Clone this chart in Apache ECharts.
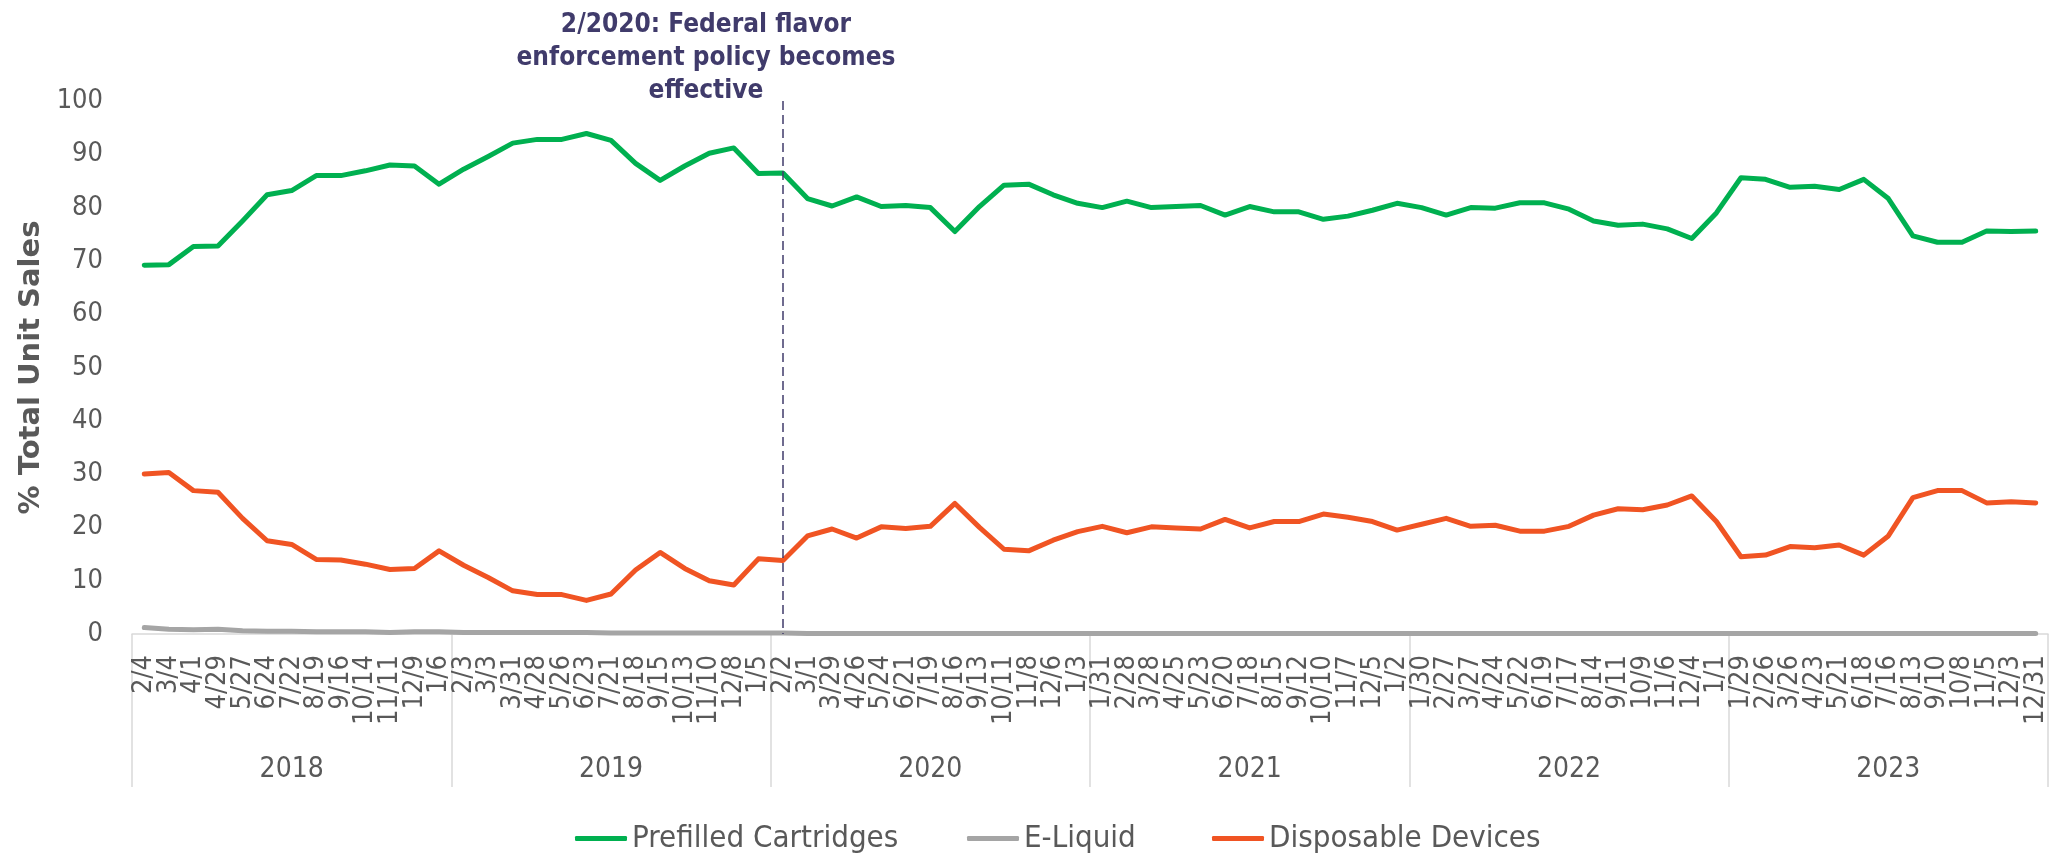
<!DOCTYPE html>
<html>
<head>
<meta charset="utf-8">
<title>Unit sales share by product type</title>
<script src="https://cdn.jsdelivr.net/npm/echarts@6/dist/echarts.min.js"></script>
<style>
  html, body { margin: 0; padding: 0; background: #fff; }
  #chart { width: 2059px; height: 856px; }
</style>
</head>
<body>
<div id="chart"></div>
<script>
// 4-week periods, grouped by year
const periods = [
  '2/4', '3/4', '4/1', '4/29', '5/27', '6/24', '7/22', '8/19', '9/16', '10/14', '11/11', '12/9', '1/6',
  '2/3', '3/3', '3/31', '4/28', '5/26', '6/23', '7/21', '8/18', '9/15', '10/13', '11/10', '12/8', '1/5',
  '2/2', '3/1', '3/29', '4/26', '5/24', '6/21', '7/19', '8/16', '9/13', '10/11', '11/8', '12/6', '1/3',
  '1/31', '2/28', '3/28', '4/25', '5/23', '6/20', '7/18', '8/15', '9/12', '10/10', '11/7', '12/5', '1/2',
  '1/30', '2/27', '3/27', '4/24', '5/22', '6/19', '7/17', '8/14', '9/11', '10/9', '11/6', '12/4', '1/1',
  '1/29', '2/26', '3/26', '4/23', '5/21', '6/18', '7/16', '8/13', '9/10', '10/8', '11/5', '12/3', '12/31'
]
const years = ['2018', '2019', '2020', '2021', '2022', '2023']

const prefilledCartridges = [
  69.2, 69.3, 72.7, 72.8, 77.5, 82.4, 83.2, 86.0, 86.0, 86.9, 88.0, 87.8, 84.4,
  87.2, 89.6, 92.1, 92.8, 92.8, 93.9, 92.6, 88.3, 85.1, 87.8, 90.2, 91.2, 86.4,
  86.5, 81.7, 80.3, 82.0, 80.2, 80.4, 80.0, 75.5, 80.2, 84.2, 84.4, 82.4, 80.8,
  80.0, 81.2, 80.0, 80.2, 80.4, 78.6, 80.2, 79.2, 79.2, 77.8, 78.4, 79.5, 80.8,
  80.0, 78.6, 80.0, 79.9, 80.9, 80.9, 79.7, 77.5, 76.7, 76.9, 76.0, 74.2, 79.0,
  85.6, 85.3, 83.8, 84.0, 83.4, 85.3, 81.7, 74.7, 73.5, 73.5, 75.6, 75.5, 75.6
]
const eLiquid = [
  1.2, 0.9, 0.8, 0.9, 0.6, 0.5, 0.5, 0.4, 0.4, 0.4, 0.3, 0.4, 0.4,
  0.3, 0.3, 0.3, 0.3, 0.3, 0.3, 0.2, 0.2, 0.2, 0.2, 0.2, 0.2, 0.2,
  0.2, 0.1, 0.1, 0.1, 0.1, 0.1, 0.1, 0.1, 0.1, 0.1, 0.1, 0.1, 0.1,
  0.1, 0.1, 0.1, 0.1, 0.1, 0.1, 0.1, 0.1, 0.1, 0.1, 0.1, 0.1, 0.1,
  0.1, 0.1, 0.1, 0.1, 0.1, 0.1, 0.1, 0.1, 0.1, 0.1, 0.1, 0.1, 0.1,
  0.1, 0.1, 0.1, 0.1, 0.1, 0.1, 0.1, 0.1, 0.1, 0.1, 0.1, 0.1, 0.1
]
const disposableDevices = [
  30.0, 30.3, 26.9, 26.6, 21.7, 17.5, 16.8, 14.0, 13.9, 13.1, 12.1, 12.3, 15.6,
  12.9, 10.6, 8.1, 7.4, 7.4, 6.3, 7.5, 12.0, 15.3, 12.3, 10.0, 9.2, 14.1,
  13.8, 18.4, 19.7, 18.0, 20.1, 19.8, 20.2, 24.5, 20.0, 15.9, 15.6, 17.6, 19.2,
  20.2, 19.0, 20.1, 19.9, 19.7, 21.5, 19.9, 21.1, 21.1, 22.5, 21.9, 21.1, 19.5,
  20.6, 21.7, 20.2, 20.4, 19.3, 19.3, 20.2, 22.3, 23.5, 23.3, 24.2, 25.9, 21.1,
  14.5, 14.8, 16.4, 16.2, 16.7, 14.8, 18.4, 25.6, 26.9, 26.9, 24.6, 24.8, 24.6
]
const yTicks = { min: 0, max: 100, interval: 10 }
const policyPeriod = '2/2'
const policyNote = '2/2020: Federal flavor\nenforcement policy becomes\neffective'

const FONT = "'DejaVu Sans Condensed', 'DejaVu Sans', sans-serif"
const TEXT = '#595959'
const GRIDLINE = '#D9D9D9'

const chart = echarts.init(document.getElementById('chart'))

function lineSeries(name, data, color) {
  return {
    name: name,
    type: 'line',
    data: data,
    symbol: 'none',
    lineStyle: { color: color, width: 5, cap: 'round', join: 'round' },
    itemStyle: { color: color }
  }
}

const series = [
  lineSeries('Prefilled Cartridges', prefilledCartridges, '#00B050'),
  lineSeries('E-Liquid', eLiquid, '#A5A5A5'),
  lineSeries('Disposable Devices', disposableDevices, '#F05423')
]

// dashed marker for the policy date
series[0].markLine = {
  silent: true,
  symbol: 'none',
  label: { show: false },
  lineStyle: { color: '#403B6B', width: 1.5, type: [9, 5] },
  data: [[{ coord: [policyPeriod, yTicks.max] }, { coord: [policyPeriod, yTicks.min] }]]
}

// excel spaces the legend entries unevenly, so one legend per entry
function legendItem(name, left) {
  return {
    top: 818,
    left: left,
    icon: 'roundRect',
    itemWidth: 52,
    itemHeight: 5,
    textStyle: { fontFamily: FONT, fontSize: 31, color: TEXT },
    data: [name]
  }
}

chart.setOption({
  animation: false,
  textStyle: { fontFamily: FONT },
  grid: { left: 132, right: 11, top: 101, bottom: 222 },
  legend: [
    legendItem('Prefilled Cartridges', 570),
    legendItem('E-Liquid', 962),
    legendItem('Disposable Devices', 1207)
  ],
  xAxis: [
    {
      type: 'category',
      data: periods,
      boundaryGap: true,
      axisLine: { lineStyle: { color: GRIDLINE, width: 1.5 } },
      axisTick: { show: false },
      axisLabel: {
        interval: 0,
        rotate: 90,
        margin: 21,
        fontFamily: FONT,
        fontSize: 27,
        color: TEXT
      }
    },
    {
      type: 'category',
      data: years,
      position: 'bottom',
      boundaryGap: true,
      axisLine: { show: false },
      axisTick: { show: true, interval: 0, length: 153, lineStyle: { color: GRIDLINE, width: 1.5 } },
      axisLabel: { interval: 0, margin: 122, fontFamily: FONT, fontSize: 28, color: TEXT }
    }
  ],
  yAxis: {
    type: 'value',
    min: yTicks.min,
    max: yTicks.max,
    interval: yTicks.interval,
    name: '% Total Unit Sales',
    nameLocation: 'middle',
    nameRotate: 90,
    nameGap: 62,
    nameTextStyle: { fontFamily: 'DejaVu Sans', fontWeight: 'bold', fontSize: 29, color: TEXT },
    axisLine: { show: false },
    axisTick: { show: false },
    splitLine: { show: false },
    axisLabel: { margin: 29, fontFamily: FONT, fontSize: 27, color: TEXT }
  },
  graphic: [
    {
      type: 'text',
      x: 706,
      y: 9,
      style: {
        text: policyNote,
        fill: '#403B6B',
        font: 'bold 26px ' + FONT,
        lineHeight: 33,
        textAlign: 'center',
        textVerticalAlign: 'top'
      }
    }
  ],
  series: series
})
</script>
</body>
</html>
